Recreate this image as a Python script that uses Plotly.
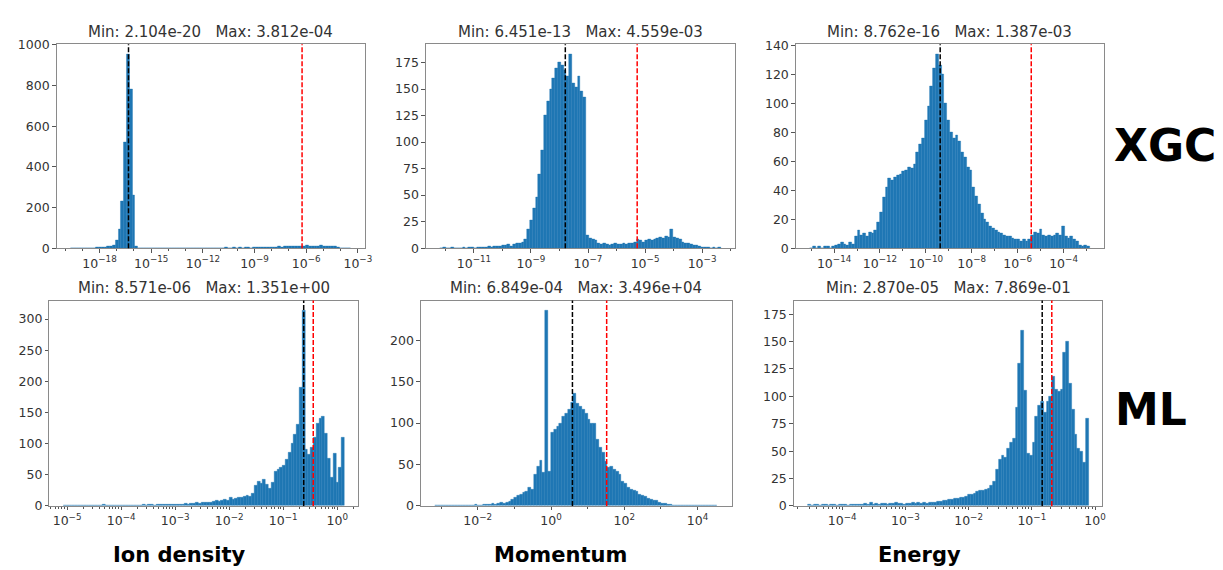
import numpy as np
import plotly.graph_objects as go

# ---------------- data ----------------
panel_names = ["XGC ion density", "XGC momentum", "XGC energy",
               "ML ion density", "ML momentum", "ML energy"]
data_min = [2.104e-20, 6.451e-13, 8.762e-16, 8.571e-06, 6.849e-04, 2.870e-05]
data_max = [3.812e-04, 4.559e-03, 1.387e-03, 1.351e+00, 3.496e+04, 7.869e-01]

# black / red dashed reference lines
black_line = [4.8e-17, 1.6e-08, 4.2e-10, 0.239, 3.85, 0.146]
red_line = [5.75e-07, 5.3e-06, 3.9e-06, 0.359, 33.1, 0.207]

# histogram counts, 100 log-spaced bins between data_min and data_max
counts_xgc_density = [
    0, 0, 0, 0, 0, 0, 0, 1, 1, 3,
    4, 5, 6, 7, 9, 14, 40, 95, 230, 520,
    955, 780, 260, 8, 0, 0, 0, 0, 0, 0,
    0, 0, 0, 0, 0, 0, 0, 0, 0, 0,
    0, 0, 0, 0, 0, 0, 0, 0, 0, 0,
    0, 0, 0, 1, 0, 2, 1, 0, 2, 1,
    2, 1, 2, 3, 1, 2, 2, 3, 2, 3,
    3, 4, 3, 5, 7, 6, 8, 7, 9, 8,
    10, 9, 11, 8, 12, 10, 9, 11, 10, 12,
    9, 10, 8, 9, 7, 5, 1, 0, 0, 1]
counts_xgc_momentum = [
    0, 1, 0, 0, 1, 0, 0, 0, 1, 0,
    1, 1, 0, 1, 1, 1, 1, 2, 1, 2,
    2, 2, 3, 3, 4, 2, 4, 5, 5, 6,
    8, 18, 26, 38, 48, 70, 92, 125, 138, 150,
    160, 170, 175, 172, 168, 162, 183, 155, 152, 162,
    148, 142, 12, 9, 8, 7, 5, 4, 5, 4,
    3, 4, 5, 4, 4, 5, 4, 5, 5, 6,
    8, 7, 6, 7, 8, 7, 8, 9, 10, 9,
    11, 10, 18, 10, 9, 8, 6, 5, 5, 4,
    3, 3, 2, 1, 1, 1, 0, 1, 0, 1]
counts_xgc_energy = [
    0, 1, 0, 1, 0, 1, 1, 0, 1, 2,
    3, 4, 3, 2, 4, 3, 8, 12, 9, 10,
    8, 11, 10, 12, 18, 25, 35, 42, 48, 47,
    49, 50, 51, 53, 54, 56, 55, 58, 66, 72,
    76, 88, 98, 112, 124, 134, 126, 120, 100, 88,
    80, 76, 78, 74, 66, 63, 56, 54, 42, 36,
    30, 24, 20, 18, 15, 14, 12, 11, 10, 9,
    8, 8, 7, 6, 6, 5, 6, 5, 6, 9,
    11, 10, 13, 9, 8, 9, 8, 9, 10, 9,
    15, 8, 7, 8, 6, 5, 2, 1, 2, 1]
counts_ml_density = [
    1, 1, 0, 1, 0, 0, 0, 0, 0, 1,
    1, 0, 1, 1, 2, 1, 0, 1, 0, 0,
    0, 0, 0, 0, 1, 1, 1, 1, 2, 1,
    2, 2, 1, 2, 2, 2, 3, 2, 3, 2,
    3, 3, 3, 4, 3, 4, 4, 5, 4, 5,
    6, 5, 6, 7, 8, 7, 9, 10, 9, 13,
    11, 12, 13, 14, 15, 16, 15, 20, 32, 40,
    36, 42, 35, 28, 38, 55, 58, 62, 65, 75,
    85, 100, 115, 130, 190, 314, 90, 82, 94, 110,
    133, 140, 143, 117, 76, 45, 84, 38, 62, 110]
counts_ml_momentum = [
    0, 1, 0, 0, 0, 1, 0, 1, 0, 1,
    1, 0, 1, 1, 2, 1, 1, 2, 2, 2,
    3, 2, 3, 4, 3, 4, 5, 8, 10, 12,
    14, 16, 18, 22, 20, 38, 48, 55, 40, 236,
    41, 88, 92, 96, 100, 108, 112, 116, 125, 136,
    124, 120, 116, 112, 104, 100, 100, 80, 70, 64,
    54, 46, 48, 44, 42, 38, 30, 27, 22, 20,
    19, 18, 14, 12, 11, 9, 8, 7, 6, 4,
    3, 3, 2, 2, 1, 1, 1, 1, 0, 1,
    1, 0, 0, 1, 0, 0, 0, 0, 0, 1]
counts_ml_energy = [
    1, 0, 1, 1, 0, 1, 1, 0, 1, 1,
    0, 1, 1, 1, 0, 1, 1, 1, 1, 1,
    2, 1, 3, 1, 2, 1, 2, 2, 1, 2,
    2, 3, 2, 2, 1, 2, 2, 3, 2, 3,
    2, 3, 2, 3, 3, 3, 4, 4, 5, 5,
    6, 6, 7, 7, 8, 8, 9, 10, 10, 11,
    13, 14, 14, 15, 16, 19, 22, 33, 42, 46,
    44, 52, 58, 62, 90, 130, 160, 105, 48, 46,
    58, 82, 92, 95, 85, 95, 100, 118, 106, 104,
    106, 140, 150, 112, 88, 65, 52, 50, 40, 80]
all_counts = [counts_xgc_density, counts_xgc_momentum, counts_xgc_energy,
              counts_ml_density, counts_ml_momentum, counts_ml_energy]

# tick labels (exponents of 10) and y ticks
x_tick_exps = [[-18, -15, -12, -9, -6, -3], [-11, -9, -7, -5, -3],
               [-14, -12, -10, -8, -6, -4], [-5, -4, -3, -2, -1, 0],
               [-2, 0, 2, 4], [-4, -3, -2, -1, 0]]
y_dtick = [200, 25, 20, 50, 50, 25]
y_top = [1003, 192.2, 140.7, 329.7, 247.8, 187.5]

row_labels = ["XGC", "ML"]
col_labels = ["Ion density", "Momentum", "Energy"]

# ---------------- layout geometry (pixels) ----------------
W, H = 1223, 570
boxes = [(49, 359, 30, 239), (420.7, 731.7, 30, 239), (793, 1103, 30, 239),
         (41.7, 352.7, 292.7, 503.3), (415.7, 728.3, 292.7, 503.3),
         (791, 1101.7, 292.7, 503.3)]

BLUE = "#1f77b4"
TXT = "#333333"
FONT = "DejaVu Sans"

fig = go.Figure()
layout = dict(width=W, height=H, margin=dict(l=0, r=0, t=0, b=0),
              paper_bgcolor="white", plot_bgcolor="white",
              showlegend=False, bargap=0)
shapes, annotations = [], []


def sup(e):
    s = str(e).replace("-", "\u2212")
    return "10<sup>" + s + "</sup>"


for k in range(6):
    sfx = "" if k == 0 else str(k + 1)
    cnt = np.array(all_counts[k], dtype=float)
    n = len(cnt)
    lmin, lmax = np.log10(data_min[k]), np.log10(data_max[k])
    r = lmax - lmin
    w = r / n
    centers = lmin + w * (np.arange(n) + 0.5)
    fig.add_trace(go.Bar(x=centers, y=cnt, width=w,
                         marker=dict(color=BLUE, line=dict(width=0.4, color=BLUE)),
                         xaxis=f"x{sfx}", yaxis=f"y{sfx}",
                         hoverinfo="skip"))
    x0, x1, yt, yb = boxes[k]
    xr = [float(lmin - 0.05 * r), float(lmax + 0.05 * r)]
    majors = x_tick_exps[k]
    if majors[1] - majors[0] == 1:
        minor_vals = [d + np.log10(m) for d in range(int(np.floor(xr[0])) - 1, int(np.ceil(xr[1])) + 1)
                      for m in range(2, 10)]
    else:
        minor_vals = [d for d in range(int(np.floor(xr[0])), int(np.ceil(xr[1])) + 1) if d not in majors]
    minor_vals = [float(v) for v in minor_vals if xr[0] < v < xr[1]]
    axfont = dict(family=FONT, size=12.5, color=TXT)
    layout[f"xaxis{sfx}"] = dict(
        domain=[x0 / W, x1 / W], range=xr, anchor=f"y{sfx}",
        tickmode="array", tickvals=majors, ticktext=[sup(e) for e in majors],
        ticks="outside", ticklen=3.5, tickwidth=0.8, tickcolor="#555",
        showline=True, mirror=True, linecolor="#8a8a8a", linewidth=1,
        showgrid=False, zeroline=False, tickfont=axfont,
        minor=dict(tickmode="array", tickvals=minor_vals, ticks="outside",
                   ticklen=2, tickwidth=0.6, tickcolor="#555", showgrid=False))
    layout[f"yaxis{sfx}"] = dict(
        domain=[1 - yb / H, 1 - yt / H], range=[0, y_top[k]], anchor=f"x{sfx}",
        tick0=0, dtick=y_dtick[k],
        ticks="outside", ticklen=3.5, tickwidth=0.8, tickcolor="#555",
        showline=True, mirror=True, linecolor="#8a8a8a", linewidth=1,
        showgrid=False, zeroline=False, tickfont=axfont)
    for val, col in ((black_line[k], "black"), (red_line[k], "red")):
        lv = float(np.log10(val))
        shapes.append(dict(type="line", xref=f"x{sfx}", yref=f"y{sfx} domain",
                           x0=lv, x1=lv, y0=0, y1=1,
                           line=dict(color=col, width=1.5, dash="5px,2px")))
    title = ("Min: " + f"{data_min[k]:.3e}" + "\u00a0\u00a0\u00a0" +
             "Max: " + f"{data_max[k]:.3e}")
    annotations.append(dict(text=title, xref="paper", yref="paper",
                            x=(x0 + x1) / 2 / W, y=1 - (yt - 13) / H,
                            xanchor="center", yanchor="middle", showarrow=False,
                            font=dict(family=FONT, size=15, color=TXT)))

# row and column labels
row_pos = [(1165, 134), (1151, 404)]
for lab, (px, py) in zip(row_labels, row_pos):
    annotations.append(dict(text=f"<b>{lab}</b>", xref="paper", yref="paper",
                            x=px / W, y=1 - py / H, xanchor="center", yanchor="middle",
                            showarrow=False, font=dict(family=FONT, size=44, color="black")))
col_pos = [172, 556, 917]
for lab, px in zip(col_labels, col_pos):
    annotations.append(dict(text=f"<b>{lab}</b>", xref="paper", yref="paper",
                            x=px / W, y=1 - 554 / H, xanchor="center", yanchor="middle",
                            showarrow=False, font=dict(family=FONT, size=21, color="black")))

layout["shapes"] = shapes
layout["annotations"] = annotations
fig.update_layout(**layout)
fig.write_html("out.html")
